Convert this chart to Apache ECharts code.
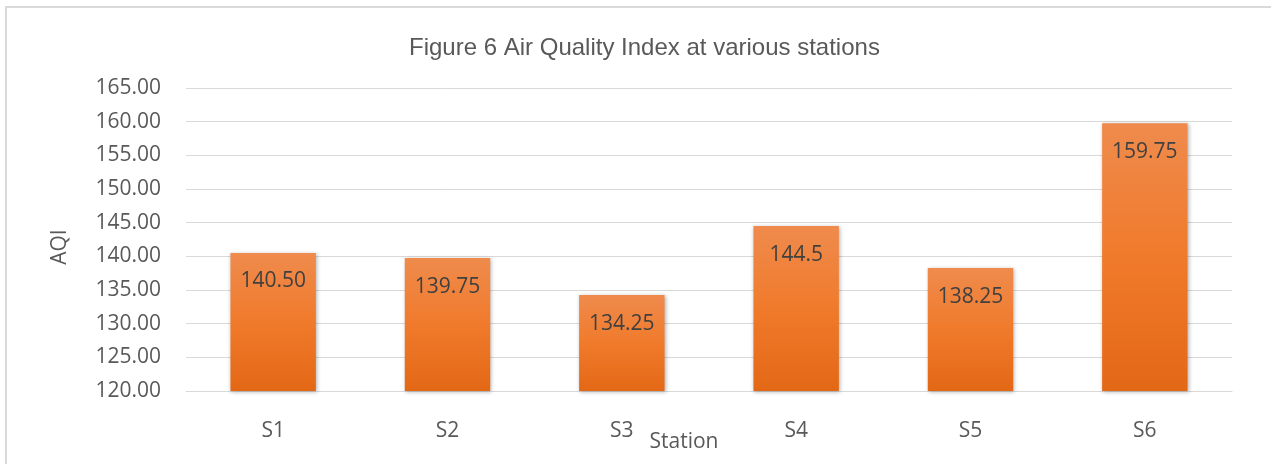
<!DOCTYPE html>
<html>
<head>
<meta charset="utf-8">
<script src="https://cdn.jsdelivr.net/npm/echarts@6/dist/echarts.min.js"></script>
<style>
  html, body { margin: 0; padding: 0; background: #fff; }
  #chart { width: 1271px; height: 464px; }
</style>
</head>
<body>
<div id="chart"></div>
<script>
var stations = ['S1', 'S2', 'S3', 'S4', 'S5', 'S6'];
var aqiValues = [140.50, 139.75, 134.25, 144.5, 138.25, 159.75];
var aqiLabels = ['140.50', '139.75', '134.25', '144.5', '138.25', '159.75'];

var myChart = echarts.init(document.getElementById('chart'));

var option = {
    backgroundColor: '#fff',
    animation: false,
    title: {
        text: 'Figure 6 Air Quality Index at various stations',
        left: 404,
        top: 31,
        textStyle: {
            fontFamily: 'Liberation Sans',
            fontSize: 24,
            fontWeight: 'normal',
            color: '#595959'
        }
    },
    graphic: [
        {
            type: 'rect',
            shape: { x: 6, y: 7, width: 1300, height: 500 },
            style: { fill: 'none', stroke: '#d9d9d9', lineWidth: 2 },
            silent: true
        },
        {
            type: 'text',
            x: 684,
            y: 442,
            style: {
                text: 'Station',
                fontFamily: 'Open Sans',
                fontSize: 21,
                fill: '#595959',
                align: 'center',
                verticalAlign: 'middle'
            }
        },
        {
            type: 'text',
            x: 60,
            y: 247,
            rotation: Math.PI / 2,
            style: {
                text: 'AQI',
                fontFamily: 'Open Sans',
                fontSize: 21,
                fill: '#595959',
                align: 'center',
                verticalAlign: 'middle'
            }
        }
    ],
    grid: {
        left: 186,
        right: 39,
        top: 88,
        bottom: 73
    },
    xAxis: {
        type: 'category',
        data: stations,
        axisLine: { lineStyle: { color: '#d9d9d9' } },
        axisTick: { show: false },
        axisLabel: {
            margin: 30,
            fontFamily: 'Open Sans',
            fontSize: 21,
            color: '#595959'
        }
    },
    yAxis: {
        type: 'value',
        min: 120,
        max: 165,
        interval: 5,
        axisLine: { show: false },
        axisTick: { show: false },
        splitLine: { lineStyle: { color: '#d9d9d9', width: 1 } },
        axisLabel: {
            margin: 25,
            fontFamily: 'Open Sans',
            fontSize: 21,
            color: '#595959',
            formatter: function (v) { return v.toFixed(2); }
        }
    },
    series: [{
        type: 'bar',
        data: aqiValues,
        barWidth: '49%',
        itemStyle: {
            color: new echarts.graphic.LinearGradient(0, 0, 0, 1, [
                { offset: 0, color: '#ef8b4d' },
                { offset: 0.5, color: '#f07a2b' },
                { offset: 1, color: '#e36816' }
            ]),
            shadowColor: 'rgba(0,0,0,0.3)',
            shadowBlur: 4,
            shadowOffsetX: 1,
            shadowOffsetY: 1
        },
        label: {
            show: true,
            position: 'insideTop',
            distance: 18,
            fontFamily: 'Open Sans',
            fontSize: 21,
            color: '#404040',
            formatter: function (p) { return aqiLabels[p.dataIndex]; }
        }
    }]
};

myChart.setOption(option);
</script>
</body>
</html>
